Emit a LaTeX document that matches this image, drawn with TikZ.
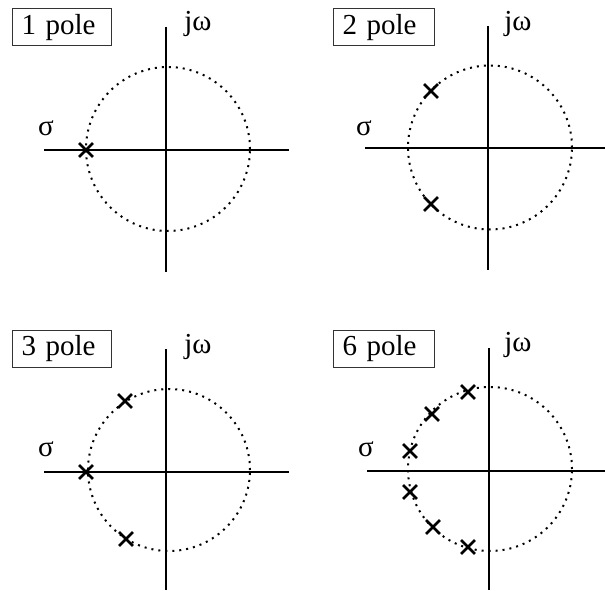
\documentclass[tikz,border=0pt]{standalone}
\usepackage{fontspec}
\setmainfont{Liberation Serif}
\usetikzlibrary{shapes.misc}
\begin{document}
\begin{tikzpicture}[x=1pt,y=-1pt,
  axisline/.style={line width=2pt},
  unitcircle/.style={line width=2pt, dash pattern=on 2pt off 5pt},
  polemark/.style={cross out, draw, minimum size=11pt, inner sep=0pt, line width=2.8pt},
  lbl/.style={font=\fontsize{29}{32}\selectfont, inner sep=0pt},
  titlebox/.style={draw=black!80, line width=1pt, font=\fontsize{29}{32}\selectfont, minimum height=37pt, inner xsep=9pt, align=left, anchor=west}]
\useasboundingbox (0,0) rectangle (605,591);

% ---------- panel 1 ----------
\node[titlebox, text width=81pt] (t1) at (12,27.5) {1 pole};
\coordinate (a1t) at (166,27); \coordinate (a1b) at (166,272);
\coordinate (a1l) at (44,150); \coordinate (a1r) at (289,150);
\draw[axisline] (a1t) -- (a1b);
\draw[axisline] (a1l) -- (a1r);
\draw[unitcircle] (168,149) circle[radius=82pt];
\node[lbl] (s1) at (46,128) {σ};
\node[lbl] (w1) at (198,24) {jω};
\node[polemark] (p1a) at (86,150) {};

% ---------- panel 2 ----------
\node[titlebox, text width=83pt] (t2) at (333,27.5) {2 pole};
\coordinate (a2t) at (488,26); \coordinate (a2b) at (488,270);
\coordinate (a2l) at (365,148); \coordinate (a2r) at (605,148);
\draw[axisline] (a2t) -- (a2b);
\draw[axisline] (a2l) -- (a2r);
\draw[unitcircle] (490,147.5) circle[radius=82pt];
\node[lbl] (s2) at (364,128) {σ};
\node[lbl] (w2) at (518,24) {jω};
\node[polemark] (p2a) at (431,91) {};
\node[polemark] (p2b) at (431,204) {};

% ---------- panel 3 ----------
\node[titlebox, text width=81pt] (t3) at (12,348.5) {3 pole};
\coordinate (a3t) at (166,349); \coordinate (a3b) at (166,590);
\coordinate (a3l) at (44,472); \coordinate (a3r) at (289,472);
\draw[axisline] (a3t) -- (a3b);
\draw[axisline] (a3l) -- (a3r);
\draw[unitcircle] (169,470) circle[radius=81pt];
\node[lbl] (s3) at (46,449) {σ};
\node[lbl] (w3) at (198,347) {jω};
\node[polemark] (p3a) at (86,472) {};
\node[polemark] (p3b) at (125,401) {};
\node[polemark] (p3c) at (126,539) {};

% ---------- panel 4 ----------
\node[titlebox, text width=83pt] (t4) at (333,348.5) {6 pole};
\coordinate (a4t) at (489,348); \coordinate (a4b) at (489,590);
\coordinate (a4l) at (367,471); \coordinate (a4r) at (605,471);
\draw[axisline] (a4t) -- (a4b);
\draw[axisline] (a4l) -- (a4r);
\draw[unitcircle] (490,469) circle[radius=82pt];
\node[lbl] (s4) at (366,449) {σ};
\node[lbl] (w4) at (518,345) {jω};
\node[polemark] (p4a) at (468,392) {};
\node[polemark] (p4b) at (432,414) {};
\node[polemark] (p4c) at (410,451) {};
\node[polemark] (p4d) at (410,492) {};
\node[polemark] (p4e) at (433,527) {};
\node[polemark] (p4f) at (468,547) {};
\end{tikzpicture}
\end{document}
